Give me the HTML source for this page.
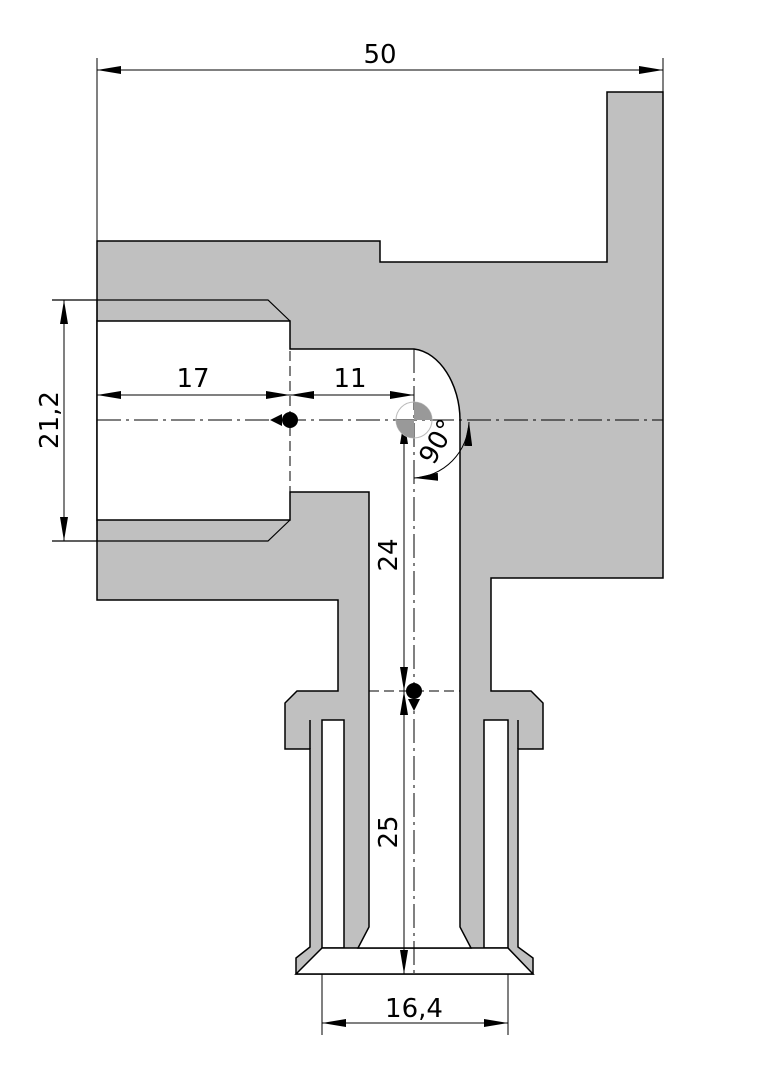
<!DOCTYPE html>
<html><head><meta charset="utf-8"><style>html,body{margin:0;padding:0;background:#fff}svg{display:block}</style></head>
<body>
<svg width="764" height="1080" viewBox="0 0 764 1080" xmlns="http://www.w3.org/2000/svg" font-family="'DejaVu Sans','Liberation Sans',sans-serif">
<defs>
<marker id="a" viewBox="0 0 10 6" refX="10" refY="3" markerWidth="10" markerHeight="6" markerUnits="userSpaceOnUse" orient="auto-start-reverse"><path d="M0,0L10,3L0,6Z" fill="#000"/></marker>
<marker id="b" viewBox="0 0 24 8" refX="24" refY="4" markerWidth="24" markerHeight="8" markerUnits="userSpaceOnUse" orient="auto-start-reverse"><path d="M0,0L24,4L0,8Z" fill="#000"/></marker>
</defs>
<g stroke="#000" stroke-width="1.5" stroke-linejoin="miter">
<path fill="#c0c0c0" d="M97,241 L380,241 L380,262 L607,262 L607,92 L663,92 L663,578 L491,578 L491,691 L531,691 L543,703 L543,749 L518,749 L518,947 L533,958 L533,974 L296,974 L296,958 L310,947 L310,749 L285,749 L285,703 L297,691 L338,691 L338,600 L97,600 Z"/>
<rect x="322" y="720" width="22" height="228" fill="#fff"/>
<rect x="484" y="720" width="24" height="228" fill="#fff"/>
<path fill="#fff" d="M322,948 L508,948 L533,974 L296,974 Z"/>
<path fill="#fff" d="M97,321 L290,321 L290,349 L414,349 C440,352 460,385 460,420 L460,927 L471,948 L358,948 L369,927 L369,492 L290,492 L290,520 L97,520 Z"/>
<path fill="none" d="M310,720 L310,749 M518,720 L518,749"/>
<path fill="none" stroke-width="1.2" d="M52,300 L268,300 L290,321 M52,541 L268,541 L290,520 M97,300 L97,321 M97,520 L97,541"/>
</g>
<g stroke="#000" stroke-width="1" fill="none">
<line x1="97" y1="58" x2="97" y2="241"/><line x1="663" y1="58" x2="663" y2="92"/>
<line x1="97" y1="70" x2="663" y2="70" marker-start="url(#b)" marker-end="url(#b)"/>
<line x1="64" y1="300" x2="64" y2="541" marker-start="url(#b)" marker-end="url(#b)"/>
<line x1="97" y1="395" x2="290" y2="395" marker-start="url(#b)" marker-end="url(#b)"/>
<line x1="290" y1="395" x2="414" y2="395" marker-start="url(#b)" marker-end="url(#b)"/>
<line x1="404" y1="420" x2="404" y2="691" marker-start="url(#b)" marker-end="url(#b)"/>
<line x1="404" y1="691" x2="404" y2="974" marker-start="url(#b)" marker-end="url(#b)"/>
<line x1="322" y1="974" x2="322" y2="1035"/><line x1="508" y1="974" x2="508" y2="1035"/>
<line x1="322" y1="1023" x2="508" y2="1023" marker-start="url(#b)" marker-end="url(#b)"/>
<line x1="97" y1="420" x2="663" y2="420" stroke-dasharray="24,5,3,5"/>
<line x1="414" y1="349" x2="414" y2="974" stroke-dasharray="24,5,3,5"/>
<line x1="290" y1="321" x2="290" y2="520" stroke-dasharray="10,5"/>
<line x1="369" y1="691" x2="460" y2="691" stroke-dasharray="10,5"/>
<path d="M414,478 A58,58 0 0 0 469,422" marker-start="url(#b)" marker-end="url(#b)"/>
<circle cx="414" cy="420" r="18" stroke="#bbb"/>
</g>
<path d="M414,402 A18,18 0 0 1 432,420 L414,420 Z M414,420 L414,438 A18,18 0 0 1 396,420 Z" fill="#999"/>
<circle cx="290" cy="420" r="8"/><path d="M282,414 L270,420 L282,426Z"/>
<circle cx="414" cy="691" r="8"/><path d="M408,699 L414,711 L420,699Z"/>
<g font-size="26" fill="#000" text-anchor="middle">
<text x="380" y="63">50</text>
<text x="193" y="387">17</text>
<text x="350" y="387">11</text>
<text x="414" y="1017">16,4</text>
<text transform="translate(58,420) rotate(-90)">21,2</text>
<text transform="translate(397,555) rotate(-90)">24</text>
<text transform="translate(397,832) rotate(-90)">25</text>
<text transform="translate(445,446) rotate(-60)">90°</text>
</g>
</svg>
</body></html>
